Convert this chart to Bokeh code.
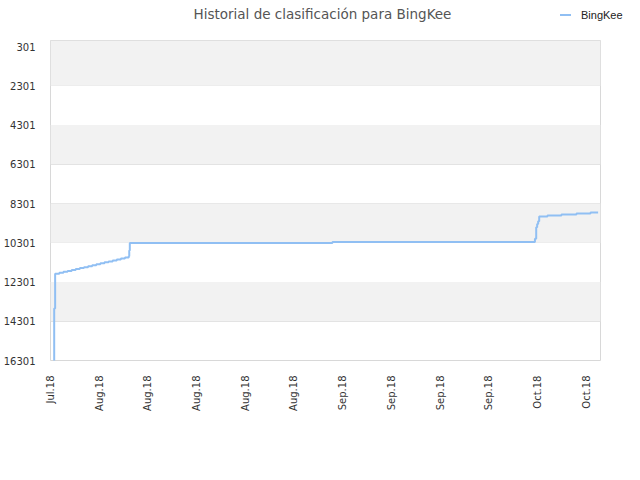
import pandas as pd
from bokeh.plotting import figure
from bokeh.layouts import column
from bokeh.models import (Range1d, FixedTicker, DatetimeTickFormatter, BoxAnnotation,
                          ColumnDataSource, Div)
from bokeh.embed import file_html
from bokeh.resources import INLINE

TITLE = "Historial de clasificación para BingKee"
SERIES_NAME = "BingKee"

DATES = [
    "2018-07-25 12:00", "2018-07-25 12:45", "2018-07-25 16:00",
    "2018-07-26 06:30", "2018-07-26 20:40", "2018-07-27 10:50", "2018-07-28 01:00",
    "2018-07-28 15:00", "2018-07-29 05:20", "2018-07-29 19:30", "2018-07-30 09:40",
    "2018-07-30 23:50", "2018-07-31 14:00", "2018-08-01 04:00", "2018-08-01 18:15",
    "2018-08-02 08:25", "2018-08-02 22:30", "2018-08-03 12:45", "2018-08-04 02:50",
    "2018-08-04 17:00", "2018-08-05 06:00", "2018-08-05 07:40", "2018-08-05 09:36",
    "2018-09-03 12:45",
    "2018-10-02 15:20", "2018-10-02 19:40", "2018-10-02 23:00", "2018-10-03 02:25",
    "2018-10-03 06:00", "2018-10-04 10:30", "2018-10-06 10:50", "2018-10-08 14:40",
    "2018-10-10 15:00", "2018-10-11 17:15",
]
RANKS = [
    16500, 13650, 11880,
    11830, 11785, 11735, 11690,
    11640, 11590, 11545, 11495,
    11450, 11400, 11350, 11300,
    11255, 11205, 11155, 11105,
    11050, 10990, 10700, 10320,
    10265,
    10100, 9510, 9340, 9200,
    8960, 8910, 8860, 8810,
    8760, 8760,
]

Y_TICKS = [301, 2301, 4301, 6301, 8301, 10301, 12301, 14301, 16301]
X_TICK_DATES = ["2018-07-25", "2018-08-01", "2018-08-08", "2018-08-15", "2018-08-22",
                "2018-08-29", "2018-09-05", "2018-09-12", "2018-09-19", "2018-09-26",
                "2018-10-03", "2018-10-10"]
X_START = "2018-07-25 00:00"
X_END = "2018-10-12 01:30"
Y_TOP = -5
# shaded bands (top, bottom) in rank units
BANDS = [(Y_TOP, 2301), (4301, 6301), (8301, 10301), (12301, 14301)]

LINE_COLOR = "#90bff3"
W, HEAD_H = 640, 40

# ---------- header: title + legend ----------
header_html = f"""
<div style="position:relative;width:{W}px;height:{HEAD_H}px;background:white;">
  <span style="position:absolute;left:0;top:6px;width:645px;text-align:center;
               font-family:'DejaVu Sans';font-size:13.5px;line-height:16px;
               color:#555555;white-space:nowrap;">{TITLE}</span>
  <span style="position:absolute;left:560px;top:14px;width:11px;height:2px;
               background:{LINE_COLOR};"></span>
  <span style="position:absolute;left:581px;top:9px;font-family:'Liberation Sans';
               font-size:11px;line-height:12px;color:#222222;
               white-space:nowrap;">{SERIES_NAME}</span>
</div>
"""
header = Div(text=header_html, width=W, height=HEAD_H, margin=0)

# ---------- main chart ----------
src = ColumnDataSource(dict(x=pd.to_datetime(DATES), y=RANKS))

p = figure(width=W, height=480 - HEAD_H, output_backend="svg", toolbar_location=None,
           x_axis_type="datetime",
           x_range=Range1d(pd.Timestamp(X_START), pd.Timestamp(X_END)),
           y_range=Range1d(Y_TICKS[-1], Y_TOP),
           min_border_left=50, min_border_right=40, min_border_top=0, min_border_bottom=120)
p.margin = 0

for top, bottom in BANDS:
    p.add_layout(BoxAnnotation(top=top, bottom=bottom,
                               fill_color="#f2f2f2", fill_alpha=1.0,
                               line_alpha=0, level="underlay"))

p.step("x", "y", source=src, mode="after", line_color=LINE_COLOR, line_width=2)

p.xaxis.ticker = FixedTicker(ticks=[pd.Timestamp(d).value / 1e6 for d in X_TICK_DATES])
p.xaxis.formatter = DatetimeTickFormatter(days="%b.%y", months="%b.%y", hours="%b.%y")
p.xaxis.major_label_orientation = 3.14159265 / 2
p.yaxis.ticker = FixedTicker(ticks=Y_TICKS)

for ax in (p.xaxis[0], p.yaxis[0]):
    ax.axis_line_color = None
    ax.major_tick_line_color = None
    ax.minor_tick_line_color = None
    ax.major_tick_out = 0
    ax.major_tick_in = 0
    ax.major_label_text_font = "DejaVu Sans"
    ax.major_label_text_font_size = "10px"
    ax.major_label_text_color = "#333333"
p.yaxis.major_label_standoff = 15
p.xaxis.major_label_standoff = 15

p.xgrid.grid_line_color = None
p.ygrid.grid_line_color = "#dedede"
p.ygrid.ticker = FixedTicker(ticks=Y_TICKS)
p.outline_line_color = "#d8d8d8"
p.background_fill_color = "white"
p.border_fill_color = "white"

layout = column(header, p, spacing=0)
open("out.html", "w").write(file_html(layout, INLINE))
